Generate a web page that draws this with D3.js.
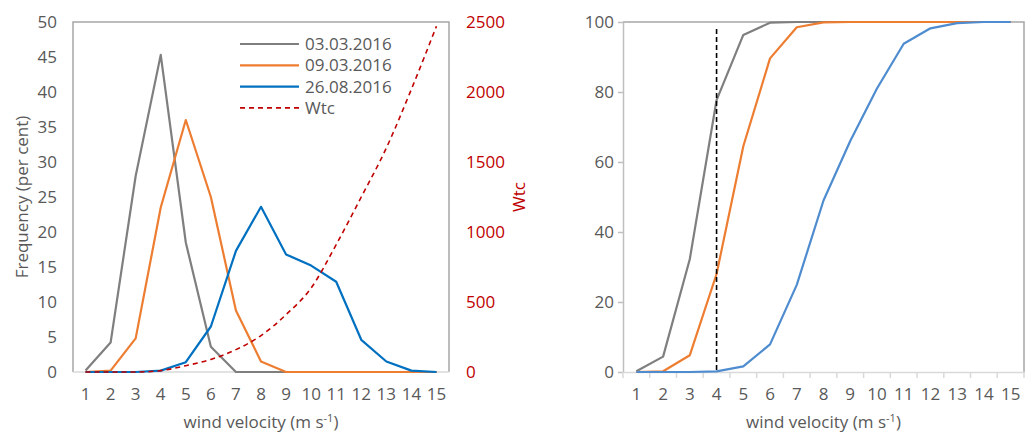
<!DOCTYPE html>
<html><head><meta charset="utf-8">
<script src="https://cdn.jsdelivr.net/npm/d3@7"></script>
<style>
body{margin:0;background:#fff;}
text{font-family:"Open Sans",sans-serif;}
</style></head>
<body><svg id="c" width="1031" height="435"></svg>
<script>
const velocities = [1,2,3,4,5,6,7,8,9,10,11,12,13,14,15];
const freq0303 = [0.2,4.2,28,45.3,18.5,3.6,0,0,0,0,0,0,0,0,0];
const freq0903 = [0,0.2,4.8,23.5,36,25,8.8,1.5,0,0,0,0,0,0,0];
const freq2608 = [0,0,0,0.2,1.4,6.5,17.3,23.6,16.8,15.2,12.9,4.6,1.5,0.2,0];
const wtc = [0,0,0,10,45,90,160,260,410,600,910,1250,1600,2020,2470];
const cum0303 = [0.2,4.4,32.3,77.7,96.3,99.8,100,100,100,100,100,100,100,100,100];
const cum0903 = [0,0.2,4.8,28,64.5,89.6,98.5,99.9,100,100,100,100,100,100,100];
const cum2608 = [0,0,0,0.2,1.6,7.9,24.9,49,66,81,93.8,98.2,99.7,100,100];
const leftTicks = [0,5,10,15,20,25,30,35,40,45,50];
const wtcTicks = [0,500,1000,1500,2000,2500];
const cumTicks = [0,20,40,60,80,100];
const seriesNames = ["03.03.2016","09.03.2016","26.08.2016","Wtc"];
const markerVelocity = 4;
const markerTop = 98;

const FS = 17;
const svg = d3.select("#c");
const txt = "#595959", red = "#c00000";
const cGray = "#7f7f7f", cOrange = "#ed7d31", cBlue = "#0070c0", cBlue2 = "#4e8ccf";

// ---------- left chart ----------
const L = {x0:73, x1:449, y0:22, y1:372};
const xL = d3.scaleBand().domain(velocities).range([L.x0, L.x1]);
const cx = (s, v) => s(v) + s.bandwidth()/2;
const yL = d3.scaleLinear().domain([0,50]).range([L.y1, L.y0]);
const yW = d3.scaleLinear().domain([0,2500]).range([L.y1, L.y0]);

const gL = svg.append("g");
gL.append("path").attr("d",`M${L.x0},${L.y1}V${L.y0}H${L.x1}V${L.y1}`)
  .attr("fill","none").attr("stroke","#a6a6a6").attr("stroke-width",1.5);
gL.append("line").attr("x1",L.x0).attr("x2",L.x1).attr("y1",L.y1).attr("y2",L.y1)
  .attr("stroke","#d9d9d9").attr("stroke-width",1.5);

const axL = gL.append("g").attr("transform",`translate(${L.x0},0)`)
  .call(d3.axisLeft(yL).tickValues(leftTicks).tickSize(0).tickPadding(16));
axL.select(".domain").remove();
axL.selectAll("text").attr("font-size",FS).attr("fill",txt).attr("font-family","Open Sans");

const axW = gL.append("g").attr("transform",`translate(${L.x1},0)`)
  .call(d3.axisRight(yW).tickValues(wtcTicks).tickFormat(d3.format("d")).tickSize(0).tickPadding(17));
axW.select(".domain").remove();
axW.selectAll("text").attr("font-size",FS).attr("fill",red).attr("font-family","Open Sans");

const axXL = gL.append("g").attr("transform",`translate(0,${L.y1})`)
  .call(d3.axisBottom(xL).tickSize(0).tickPadding(16));
axXL.select(".domain").remove();
axXL.selectAll("text").attr("font-size",FS).attr("fill",txt).attr("font-family","Open Sans");

const lineL = d3.line().x((d,i)=>cx(xL,velocities[i])).y(d=>yL(d));
[[freq0303,cGray],[freq0903,cOrange],[freq2608,cBlue]].forEach(([d,c])=>{
  gL.append("path").attr("d",lineL(d)).attr("fill","none").attr("stroke",c)
    .attr("stroke-width",2.2).attr("stroke-linejoin","round");
});
const lineW = d3.line().x((d,i)=>cx(xL,velocities[i])).y(d=>yW(d)).curve(d3.curveMonotoneX);
gL.append("path").attr("d",lineW(wtc)).attr("fill","none").attr("stroke",red)
  .attr("stroke-width",1.6).attr("stroke-dasharray","5,4");

// legend
const legColors = [cGray,cOrange,cBlue,red];
seriesNames.forEach((n,i)=>{
  const y = 44 + i*21.3;
  const l = gL.append("line").attr("x1",240).attr("x2",299).attr("y1",y).attr("y2",y)
    .attr("stroke",legColors[i]).attr("stroke-width", i===3?1.6:2.2);
  if(i===3) l.attr("stroke-dasharray","5,4");
  gL.append("text").attr("x",305).attr("y",y+6).attr("font-size",FS).attr("fill",txt).text(n);
});

// titles
gL.append("text").attr("transform",`translate(28,197) rotate(-90)`).attr("text-anchor","middle")
  .attr("font-size",FS).attr("fill",txt).text("Frequency (per cent)");
gL.append("text").attr("transform",`translate(525,197) rotate(-90)`).attr("text-anchor","middle")
  .attr("font-size",FS).attr("fill",red).text("Wtc");
function xTitle(g, cxp){
  const t = g.append("text").attr("x",cxp).attr("y",428).attr("text-anchor","middle")
    .attr("font-size",FS).attr("fill",txt);
  t.append("tspan").text("wind velocity (m s");
  t.append("tspan").attr("font-size",11).attr("dy",-6).text("-1");
  t.append("tspan").attr("dy",6).text(")");
}
xTitle(gL,(L.x0+L.x1)/2);

// ---------- right chart ----------
const R = {x0:623, x1:1024, y0:22, y1:372};
const xR = d3.scaleBand().domain(velocities).range([R.x0, R.x1]);
const yR = d3.scaleLinear().domain([0,100]).range([R.y1, R.y0]);
const gR = svg.append("g");
gR.append("path").attr("d",`M${R.x0},${R.y0}H${R.x1}V${R.y1}`)
  .attr("fill","none").attr("stroke","#a6a6a6").attr("stroke-width",1.5);

const axYR = gR.append("g").attr("transform",`translate(${R.x0},0)`)
  .call(d3.axisLeft(yR).tickValues(cumTicks).tickSize(5).tickPadding(4).tickSizeOuter(0));
axYR.select(".domain").attr("stroke","#bfbfbf").attr("stroke-width",1.5);
axYR.selectAll(".tick line").attr("stroke","#bfbfbf").attr("stroke-width",1.5);
axYR.selectAll("text").attr("font-size",FS).attr("fill",txt).attr("font-family","Open Sans");

const axXR = gR.append("g").attr("transform",`translate(0,${R.y1})`)
  .call(d3.axisBottom(xR).tickSize(0).tickPadding(16));
axXR.select(".domain").attr("stroke","#d9d9d9").attr("stroke-width",1.5);
axXR.selectAll("text").attr("font-size",FS).attr("fill",txt).attr("font-family","Open Sans");
const bounds = velocities.map(v=>xR(v)).concat([R.x1]);
gR.selectAll("line.bt").data(bounds).join("line").attr("class","bt")
  .attr("x1",d=>d).attr("x2",d=>d).attr("y1",R.y1).attr("y2",R.y1+6)
  .attr("stroke","#d9d9d9").attr("stroke-width",1.5);

const lineR = d3.line().x((d,i)=>cx(xR,velocities[i])).y(d=>yR(d));
[[cum0303,cGray],[cum0903,cOrange],[cum2608,cBlue2]].forEach(([d,c])=>{
  gR.append("path").attr("d",lineR(d)).attr("fill","none").attr("stroke",c)
    .attr("stroke-width",2.2).attr("stroke-linejoin","round");
});
gR.append("line").attr("x1",cx(xR,markerVelocity)).attr("x2",cx(xR,markerVelocity))
  .attr("y1",yR(markerTop)).attr("y2",yR(0)).attr("stroke","#000")
  .attr("stroke-width",1.6).attr("stroke-dasharray","5,3");
xTitle(gR,(R.x0+R.x1)/2);
</script></body></html>
